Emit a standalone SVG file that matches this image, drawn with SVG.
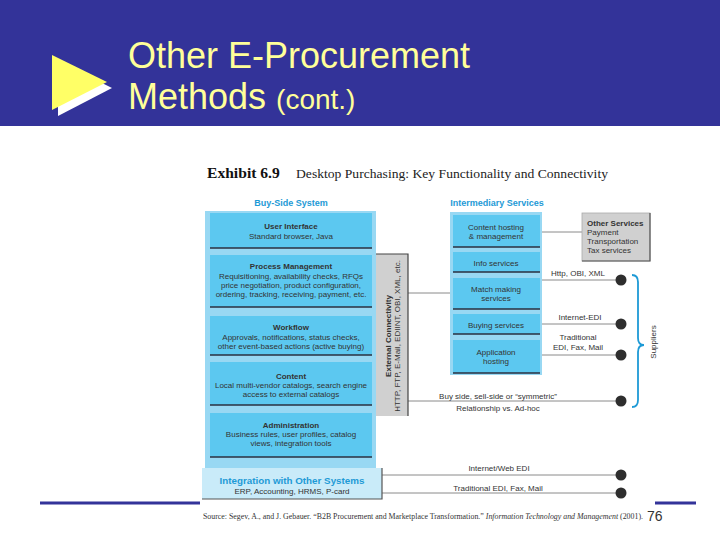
<svg xmlns="http://www.w3.org/2000/svg" width="720" height="540" viewBox="0 0 720 540">
<style>
.title{font-family:"Liberation Sans",Arial,sans-serif;fill:#FFFF99}
.box{fill:#5CC8F0}
.outer{fill:#98D8F3}
.edge{stroke:#2A3140;stroke-width:1.4}
.t{font-family:"Liberation Sans",Arial,sans-serif;font-size:8px;fill:#333;text-anchor:middle}
.tl{font-family:"Liberation Sans",Arial,sans-serif;font-size:8px;fill:#333}
.tb{font-weight:bold}
.head{font-family:"Liberation Sans",Arial,sans-serif;font-size:9px;font-weight:bold;fill:#1E9AD6;text-anchor:middle}
.conn{stroke:#8a8a8a;stroke-width:1;fill:none}
.dot{fill:#2E2E2E}
.navy{stroke:#333399;stroke-width:3}
</style>
<rect x="0" y="0" width="720" height="540" fill="#FFFFFF"/>
<g id="header">
<rect x="0" y="0" width="720" height="126" fill="#333399"/>
<polygon points="58,61 58,116 112,88" fill="#FFFFFF"/>
<polygon points="52,55 52,110 107,82" fill="#FFFF66"/>
<text class="title" x="128" y="68" font-size="36">Other E-Procurement</text>
<text class="title" x="128" y="109" font-size="36">Methods <tspan font-size="28">(cont.)</tspan></text>
</g>
<g id="exhibit-title">
<text x="207" y="178" font-family="Liberation Serif,Times New Roman,serif" font-size="15.6" font-weight="bold" fill="#111">Exhibit 6.9</text>
<text x="296" y="178" font-family="Liberation Serif,Times New Roman,serif" font-size="12.5" fill="#222" textLength="312" lengthAdjust="spacingAndGlyphs">Desktop Purchasing: Key Functionality and Connectivity</text>
<text class="head" x="291" y="206">Buy-Side System</text>
<text class="head" x="497" y="206">Intermediary Services</text>
</g>
<g id="connectors">
<line class="conn" x1="408" y1="293" x2="450" y2="293"/>
<line class="conn" x1="540" y1="232" x2="582" y2="232"/>
<line class="conn" x1="540" y1="280" x2="621" y2="280"/>
<line class="conn" x1="540" y1="324" x2="621" y2="324"/>
<line class="conn" x1="540" y1="355" x2="621" y2="355"/>
<line class="conn" x1="408" y1="401" x2="621" y2="401"/>
<line class="conn" x1="382" y1="475" x2="621" y2="475"/>
<line class="conn" x1="382" y1="493" x2="621" y2="493"/>
<circle class="dot" cx="621" cy="280" r="5.5"/>
<circle class="dot" cx="621" cy="324" r="5.5"/>
<circle class="dot" cx="621" cy="355" r="5.5"/>
<circle class="dot" cx="621" cy="401" r="5.5"/>
<circle class="dot" cx="621" cy="475" r="5.5"/>
<circle class="dot" cx="621" cy="493" r="5.5"/>
<text class="t" x="578" y="276">Http, OBI, XML</text>
<text class="t" x="580" y="320">Internet-EDI</text>
<text class="t" x="578" y="340">Traditional</text>
<text class="t" x="578" y="350">EDI, Fax, Mail</text>
<text class="t" x="498" y="399">Buy side, sell-side or “symmetric”</text>
<text class="t" x="498" y="411">Relationship vs. Ad-hoc</text>
<text class="t" x="499" y="471">Internet/Web EDI</text>
<text class="t" x="498" y="491">Traditional EDI, Fax, Mail</text>
</g>
<g id="buy-side-system">
<rect class="outer" x="205" y="211" width="171" height="257"/>
</g>
<g id="user-interface">
<rect class="box" x="210" y="213" width="162" height="35"/>
<line class="edge" x1="210" y1="248" x2="372" y2="248"/>
<text class="t tb" x="291" y="229">User Interface</text>
<text class="t" x="291" y="239">Standard browser, Java</text>
</g>
<g id="process-management">
<rect class="box" x="210" y="255" width="162" height="52"/>
<line class="edge" x1="210" y1="307" x2="372" y2="307"/>
<text class="t tb" x="291" y="269">Process Management</text>
<text class="t" x="291" y="279">Requisitioning, availability checks, RFQs</text>
<text class="t" x="291" y="288">price negotiation, product configuration,</text>
<text class="t" x="291" y="297">ordering, tracking, receiving, payment, etc.</text>
</g>
<g id="workflow">
<rect class="box" x="210" y="316" width="162" height="39"/>
<line class="edge" x1="210" y1="355" x2="372" y2="355"/>
<text class="t tb" x="291" y="330">Workflow</text>
<text class="t" x="291" y="340">Approvals, notifications, status checks,</text>
<text class="t" x="291" y="349">other event-based actions (active buying)</text>
</g>
<g id="content">
<rect class="box" x="210" y="362" width="162" height="43"/>
<line class="edge" x1="210" y1="405" x2="372" y2="405"/>
<text class="t tb" x="291" y="379">Content</text>
<text class="t" x="291" y="388">Local multi-vendor catalogs, search engine</text>
<text class="t" x="291" y="397">access to external catalogs</text>
</g>
<g id="administration">
<rect class="box" x="210" y="413" width="162" height="44"/>
<line class="edge" x1="210" y1="457" x2="372" y2="457"/>
<text class="t tb" x="291" y="428">Administration</text>
<text class="t" x="291" y="437">Business rules, user profiles, catalog</text>
<text class="t" x="291" y="446">views, integration tools</text>
</g>
<g id="integration">
<rect x="202" y="468" width="180" height="31" fill="#C9EBF9"/>
<polyline points="382,468 382,499 202,499" fill="none" stroke="#555" stroke-width="1.2"/>
<text x="292" y="484" font-family="Liberation Sans,Arial,sans-serif" font-size="9.8" font-weight="bold" fill="#1E9AD6" text-anchor="middle">Integration with Other Systems</text>
<text class="t" x="292" y="494">ERP, Accounting, HRMS, P-card</text>
</g>
<g id="external-connectivity">
<rect x="376" y="254" width="32" height="162" fill="#D0D0D0"/>
<polyline points="376,254 408,254 408,416" fill="none" stroke="#444" stroke-width="1.2"/>
<text class="t tb" transform="translate(391,336) rotate(-90)">External Connectivity</text>
<text class="t" transform="translate(400,336) rotate(-90)">HTTP, FTP, E-Mail, EDIINT, OBI, XML, etc.</text>
</g>
<g id="intermediary-services">
<rect class="outer" x="450" y="212" width="92" height="163"/>
</g>
<g id="content-hosting">
<rect class="box" x="453" y="215" width="87" height="32"/>
<line class="edge" x1="453" y1="247" x2="540" y2="247"/>
<text class="t" x="496" y="230">Content hosting</text>
<text class="t" x="496" y="239">&amp; management</text>
</g>
<g id="info-services">
<rect class="box" x="453" y="252" width="87" height="20"/>
<line class="edge" x1="453" y1="272" x2="540" y2="272"/>
<text class="t" x="496" y="266">Info services</text>
</g>
<g id="match-making">
<rect class="box" x="453" y="278" width="87" height="31"/>
<line class="edge" x1="453" y1="309" x2="540" y2="309"/>
<text class="t" x="496" y="292">Match making</text>
<text class="t" x="496" y="301">services</text>
</g>
<g id="buying-services">
<rect class="box" x="453" y="314" width="87" height="20"/>
<line class="edge" x1="453" y1="334" x2="540" y2="334"/>
<text class="t" x="496" y="328">Buying services</text>
</g>
<g id="application-hosting">
<rect class="box" x="453" y="340" width="87" height="33"/>
<line class="edge" x1="453" y1="373" x2="540" y2="373"/>
<text class="t" x="496" y="355">Application</text>
<text class="t" x="496" y="364">hosting</text>
</g>
<g id="other-services">
<rect x="582" y="213" width="68" height="48" fill="#D0D0D0" stroke="#AAA" stroke-width="0.8"/>
<polyline points="650,213 650,261 582,261" fill="none" stroke="#555" stroke-width="1.2"/>
<text class="tl tb" x="587" y="226">Other Services</text>
<text class="tl" x="587" y="235">Payment</text>
<text class="tl" x="587" y="244">Transportation</text>
<text class="tl" x="587" y="253">Tax services</text>
</g>
<g id="suppliers">
<path d="M632,275 Q638,275 638,282 L638,338 Q638,345 644,345 Q638,345 638,352 L638,400 Q638,407 632,407" fill="none" stroke="#1E9AD6" stroke-width="1.8"/>
<text class="t" font-size="9" transform="translate(656,342) rotate(-90)">Suppliers</text>
</g>
<g id="footer">
<line class="navy" x1="40" y1="503" x2="200" y2="503"/>
<line class="navy" x1="655" y1="503" x2="696" y2="503"/>
<text x="203" y="519" font-family="Liberation Serif,Times New Roman,serif" font-size="7.2" fill="#333" textLength="440" lengthAdjust="spacingAndGlyphs">Source: Segev, A., and J. Gebauer. “B2B Procurement and Marketplace Transformation.” <tspan font-style="italic">Information Technology and Management</tspan> (2001).</text>
<text x="647" y="521" font-family="Liberation Sans,Arial,sans-serif" font-size="14" fill="#333">76</text>
</g>
</svg>
